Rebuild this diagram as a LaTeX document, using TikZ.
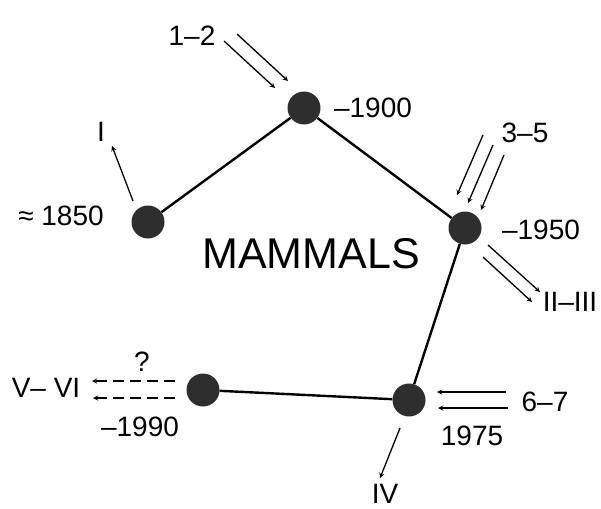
\documentclass[tikz,border=0pt]{standalone}
\usepackage{fontspec}
\setmainfont{Liberation Sans}

\begin{document}
\begin{tikzpicture}[x=1pt,y=-1pt,
  event/.style={circle,fill=black!82,inner sep=0pt,minimum size=33pt},
  lbl/.style={font=\fontsize{28}{30}\selectfont,inner sep=0pt},
  link/.style={line width=2.4pt},
  flow/.style={line width=1.3pt,->,>=stealth},
  back/.style={line width=1.3pt,<-,>=stealth}]
\useasboundingbox (0,0) rectangle (601,508);
% dates
\node[event] (y1850) at (148,222) {};
\node[event] (y1900) at (304,108) {};
\node[event] (y1950) at (465,228) {};
\node[event] (y1975) at (409,400) {};
\node[event] (y1990) at (203,390) {};
\draw[link] (y1850) -- (y1900) -- (y1950) -- (y1975) -- (y1990);
\node[font=\fontsize{43}{45}\selectfont,inner sep=0pt] (title) at (311,254) {MAMMALS};
% labels
\node[lbl] (t1850) at (61,216) {≈ 1850};
\node[lbl] (t1900) at (373,108) {--1900};
\node[lbl] (t1950) at (541,230) {--1950};
\node[lbl] (t1975) at (472,436) {1975};
\node[lbl] (t1990) at (140,427) {--1990};
\node[lbl] (nI) at (101,132) {I};
\node[lbl] (n12) at (192,36) {1--2};
\node[lbl] (n35) at (525,133) {3--5};
\node[lbl] (n23) at (570,302) {II--III};
\node[lbl] (n67) at (545,402) {6--7};
\node[lbl] (nIV) at (385,494) {IV};
\node[lbl] (n56) at (46,388) {V-- VI};
\node[lbl] (nq) at (142,362) {?};
% arrow ends
\coordinate (a1) at (133,201); \coordinate (a2) at (112,146);
\coordinate (b1) at (224,41);  \coordinate (b2) at (275,88);
\coordinate (b3) at (237,34);  \coordinate (b4) at (288,81);
\coordinate (c1) at (483,135); \coordinate (c2) at (457,195);
\coordinate (c3) at (493,145); \coordinate (c4) at (468,203);
\coordinate (c5) at (504,155); \coordinate (c6) at (481,210);
\coordinate (d1) at (488,245); \coordinate (d2) at (540,292);
\coordinate (d3) at (483,257); \coordinate (d4) at (532,302);
\coordinate (e1) at (437,392); \coordinate (e2) at (506,392);
\coordinate (e3) at (438,408); \coordinate (e4) at (508,408);
\coordinate (f1) at (400,428); \coordinate (f2) at (380,478);
\coordinate (g1) at (175,381); \coordinate (g2) at (92,381);
\coordinate (g3) at (175,398); \coordinate (g4) at (93,398);
% arrows
\draw[flow] (a1) -- (a2);
\draw[flow] (b1) -- (b2);
\draw[flow] (b3) -- (b4);
\draw[flow] (c1) -- (c2);
\draw[flow] (c3) -- (c4);
\draw[flow] (c5) -- (c6);
\draw[flow] (d1) -- (d2);
\draw[flow] (d3) -- (d4);
\draw[back] (e1) -- (e2);
\draw[back] (e3) -- (e4);
\draw[flow] (f1) -- (f2);
\draw[flow,dash pattern=on 11pt off 6pt] (g1) -- (g2);
\draw[flow,dash pattern=on 11pt off 6pt] (g3) -- (g4);
\end{tikzpicture}
\end{document}
